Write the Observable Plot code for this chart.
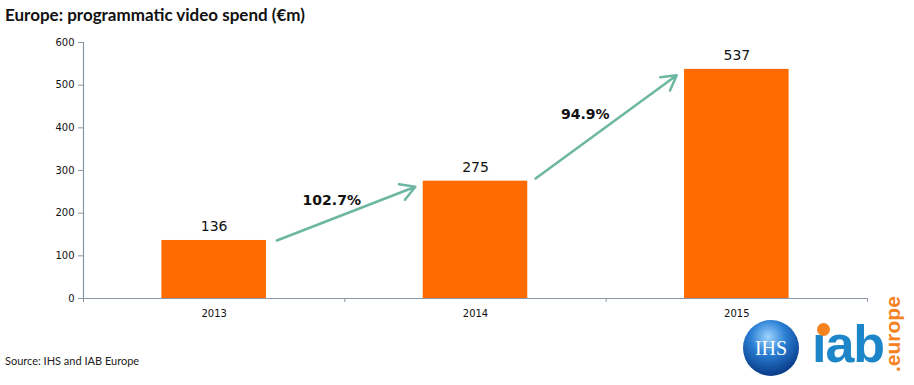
<!DOCTYPE html>
<html>
<head>
<meta charset="utf-8">
<script src="https://cdn.jsdelivr.net/npm/d3@7"></script>
<script src="https://cdn.jsdelivr.net/npm/@observablehq/plot@0.6"></script>
<style>
  body { margin: 0; background: #fff; width: 914px; height: 385px; position: relative; overflow: hidden; }
  #title { font-family: Lato, "Open Sans", sans-serif; font-weight: 700; font-size: 17px; color: #111; height: 30px; line-height: 30px; padding-left: 5px; }
  #source { position: absolute; left: 5px; top: 354px; font-family: Lato, sans-serif; font-size: 11px; color: #222; }
  .ihs { position: absolute; left: 743px; top: 320px; width: 56px; height: 56px; border-radius: 50%;
    background: radial-gradient(circle at 45% 30%, #9fd4ff 0%, #2a7fd4 35%, #0b3f8c 75%, #062a63 100%);
    color: #fff; font-family: "Liberation Serif", serif; font-size: 20px; line-height: 56px; text-align: center; }
  .iab { position: absolute; left: 812px; top: 318px; font-family: "Liberation Sans", Arial, sans-serif; font-weight: 700; font-size: 52px; line-height: 52px; color: #1d86c8; letter-spacing: -1px; }
  .dot { position: absolute; left: 817px; top: 323px; width: 13px; height: 13px; border-radius: 50%; background: #f5821f; }
  .eu { position: absolute; left: 870px; top: 316px; font-family: "Liberation Sans", Arial, sans-serif; font-weight: 700; font-size: 21px; color: #f5821f; transform: rotate(-90deg); transform-origin: left top; white-space: nowrap; }
</style>
</head>
<body>
<div id="title">Europe: programmatic video spend (€m)</div>
<div id="chart"></div>
<div id="source">Source: IHS and IAB Europe</div>
<div class="ihs">IHS</div>
<div class="iab">&#305;ab</div>
<div class="dot"></div>
<div class="eu" style="top:372px;left:881px;">.europe</div>
<script>
const years = [2013, 2014, 2015];
const spend = [136, 275, 537];
const yTicks = [0, 100, 200, 300, 400, 500, 600];
const growthLabels = ["102.7%", "94.9%"];
// arrow endpoints (in data units)
const arrowX1 = [2013.24, 2014.23];
const arrowY1 = [136, 281];
const arrowX2 = [2013.77, 2014.77];
const arrowY2 = [262, 523];
const labelX = [2013.45, 2014.42];
const labelY = [230, 431];
const boundaries = [2012.5, 2013.5, 2014.5, 2015.5];

const bars = years.map((y, i) => ({year: y, value: spend[i]}));
const arrows = growthLabels.map((g, i) => ({x1: arrowX1[i], y1: arrowY1[i], x2: arrowX2[i], y2: arrowY2[i], lx: labelX[i], ly: labelY[i], label: g}));

const orange = "#ff6b00";
const teal = "#6cb7a1";
const axisColor = "#8a96a3";

const chart = Plot.plot({
  width: 914,
  height: 320,
  marginLeft: 83,
  marginRight: 47,
  marginTop: 12,
  marginBottom: 52,
  style: {fontFamily: "'DejaVu Sans', Verdana, sans-serif", background: "#fff"},
  x: {domain: [2012.5, 2015.5], axis: null},
  y: {domain: [0, 600], axis: null},
  marks: [
    Plot.rectY(bars, {x1: d => d.year - 0.2, x2: d => d.year + 0.2, y1: 0, y2: "value", fill: orange}),
    Plot.ruleX([2012.5], {y1: 0, y2: 600, stroke: axisColor, strokeWidth: 1.2}),
    Plot.ruleY([0], {stroke: axisColor, strokeWidth: 1.2}),
    Plot.axisY({ticks: yTicks, tickSize: 5, tickPadding: 4, stroke: axisColor, fontSize: 10, fill: "#111", tickFormat: d => String(d)}),
    Plot.axisX({ticks: boundaries, tickSize: 4, tickFormat: () => "", stroke: axisColor}),
    Plot.axisX({ticks: years, tickSize: 0, tickPadding: 11, tickFormat: d => String(d), fontSize: 10, fill: "#111"}),
    Plot.text(bars, {x: "year", y: "value", text: d => String(d.value), dy: -14, fontSize: 14, fill: "#111"}),
    Plot.arrow(arrows, {x1: "x1", y1: "y1", x2: "x2", y2: "y2", stroke: teal, strokeWidth: 2.5, headLength: 10, bend: 0}),
    Plot.text(arrows, {x: "lx", y: "ly", text: "label", fontSize: 14, fontWeight: "bold", fill: "#111"})
  ]
});
document.getElementById("chart").appendChild(chart);
</script>
</body>
</html>
